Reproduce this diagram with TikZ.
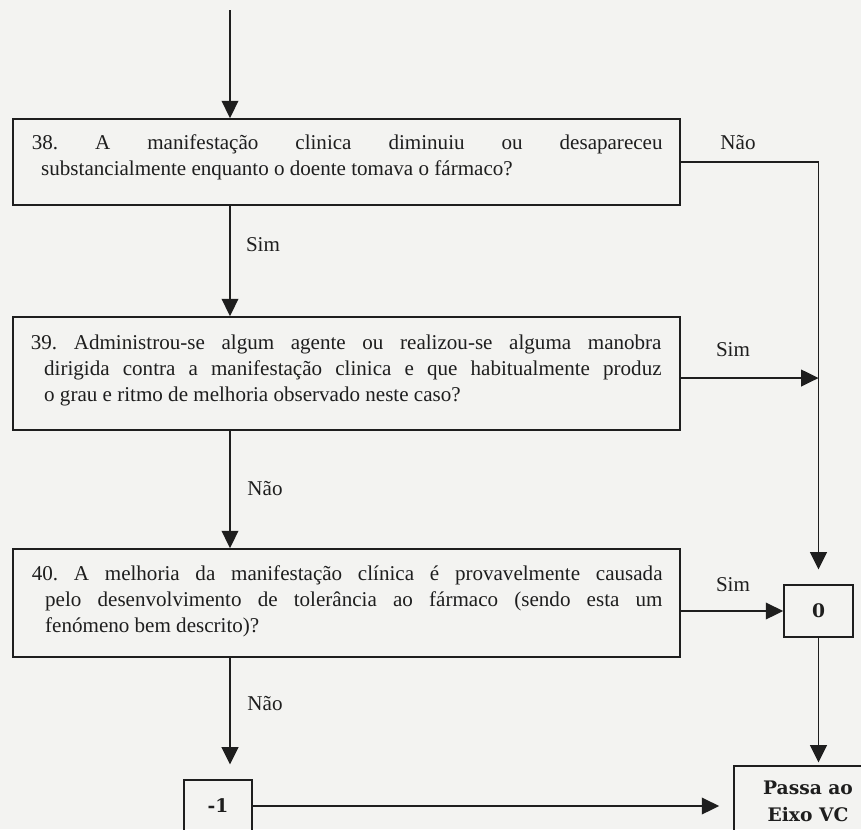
\documentclass[tikz,border=0pt]{standalone}
\usepackage{fontspec}
\setmainfont{Liberation Serif}
\newfontfamily\boxlabelfont{DejaVu Serif}
\usetikzlibrary{arrows.meta}

\definecolor{paper}{RGB}{243,243,241}
\definecolor{ink}{RGB}{30,30,30}

\newcommand{\qfont}{\fontsize{15.8}{19.5}\selectfont}
\newcommand{\rfont}{\boxlabelfont\bfseries\fontsize{14}{20.25}\selectfont}
\frenchspacing

\begin{document}
\begin{tikzpicture}[x=0.75pt,y=-0.75pt,
  line width=1.3pt, color=ink,
  flow/.style={-{Triangle[length=13pt,width=12.5pt]}},
  qbox/.style={draw, rectangle, inner sep=0pt, minimum width=500.25pt},
  qtext/.style={anchor=north west, inner sep=0pt, text width=473pt,
    align=justify, font=\qfont},
  branch/.style={inner sep=0pt, font=\qfont},
  result/.style={draw, rectangle, inner sep=0pt, align=center, font=\rfont}
]
\useasboundingbox (0,0) rectangle (861,829);
\clip (0,0) rectangle (861,829);
\fill[paper] (0,0) rectangle (861,829);

% question boxes
\node[qbox, minimum height=64.5pt] (b38) at (346.5,162) {};
\node[qbox, minimum height=84.75pt] (b39) at (346.5,373.5) {};
\node[qbox, minimum height=81pt] (b40) at (346.5,603) {};

% question texts
\node[qtext] (t38) at (31,130) {\noindent\hangindent=7pt\hangafter=1\strut
  38. A manifestação clinica diminuiu ou desapareceu\linebreak
  substancialmente enquanto o doente tomava o fármaco?\par};
\node[qtext] (t39) at (30,330) {\noindent\hangindent=10pt\hangafter=1\strut
  39. Administrou-se algum agente ou realizou-se alguma manobra\linebreak
  dirigida contra a manifestação clinica e que habitualmente produz\linebreak
  o grau e ritmo de melhoria observado neste caso?\par};
\node[qtext] (t40) at (31,561) {\noindent\hangindent=10pt\hangafter=1\strut
  40. A melhoria da manifestação clínica é provavelmente causada\linebreak
  pelo desenvolvimento de tolerância ao fármaco (sendo esta um\linebreak
  fenómeno bem descrito)?\par};

% result boxes
\node[result, minimum width=51.75pt, minimum height=39pt] (b0) at (818.5,611) {0};
\node[result, minimum width=51pt, minimum height=39pt] (bm1) at (218,806) {-1};
\node[result, minimum width=111pt, minimum height=52.5pt] (passa) at (808,801)
  {Passa ao\\Eixo VC};

% connectors
\coordinate (start) at (230,10);
\draw[flow] (start) -- (start |- b38.north);
\draw[flow] (start |- b38.south) -- (start |- b39.north);
\draw[flow] (start |- b39.south) -- (start |- b40.north);
\draw[flow, shorten >=11pt] (start |- b40.south) -- (start |- bm1.north);

\draw[flow, shorten >=11pt] (b38.east) -| (b0.north);
\draw[flow] ([yshift=-3.4pt]b39.east) coordinate (s39) -- (s39 -| b0.north);
\draw[flow] (b0.west -| b40.east) -- (b0.west);
\draw[flow, shorten >=2pt] (b0.south) -- (b0.south |- passa.north);
\draw[flow, shorten >=10.5pt] (bm1.east) -- (bm1.east -| passa.west);

% branch labels
\node[branch] (n38) at (738,143) {Não};
\node[branch] (s38) at (263,245) {Sim};
\node[branch] (s39) at (733,350) {Sim};
\node[branch] (n39) at (265,488) {Não};
\node[branch] (s40) at (733,585) {Sim};
\node[branch] (n40) at (265,703) {Não};
\end{tikzpicture}
\end{document}
